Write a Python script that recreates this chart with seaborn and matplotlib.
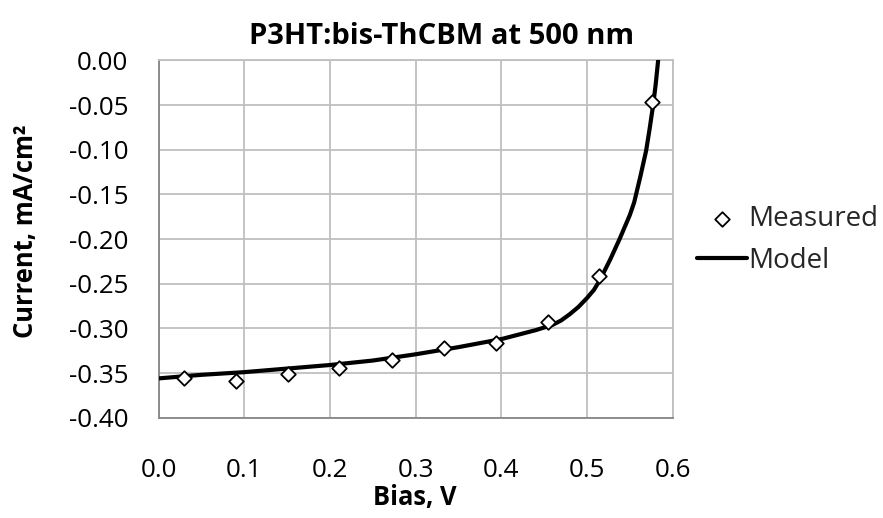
import matplotlib
matplotlib.use('Agg')
import matplotlib.pyplot as plt
import seaborn as sns

# ---- data ----
bias_measured = [0.030, 0.090, 0.151, 0.211, 0.272, 0.333, 0.394, 0.454, 0.514, 0.576]
current_measured = [-0.356, -0.359, -0.351, -0.344, -0.335, -0.322, -0.316, -0.293, -0.241, -0.047]

bias_model = [0.0, 0.05, 0.10, 0.15, 0.20, 0.25, 0.30, 0.35, 0.40, 0.44, 0.46, 0.47, 0.48,
              0.49, 0.50, 0.508, 0.515, 0.527, 0.538, 0.550, 0.555, 0.562, 0.569, 0.573,
              0.577, 0.580, 0.583]
current_model = [-0.356, -0.352, -0.349, -0.345, -0.341, -0.336, -0.329, -0.321, -0.312,
                 -0.302, -0.296, -0.291, -0.284, -0.276, -0.266, -0.257, -0.246, -0.223,
                 -0.200, -0.173, -0.159, -0.131, -0.101, -0.077, -0.051, -0.028, 0.000]

x_ticks = [0.0, 0.1, 0.2, 0.3, 0.4, 0.5, 0.6]
x_tick_labels = ["0.0", "0.1", "0.2", "0.3", "0.4", "0.5", "0.6"]
y_ticks = [0.00, -0.05, -0.10, -0.15, -0.20, -0.25, -0.30, -0.35, -0.40]
y_tick_labels = ["0.00", "-0.05", "-0.10", "-0.15", "-0.20", "-0.25", "-0.30", "-0.35", "-0.40"]

title = "P3HT:bis-ThCBM at 500 nm"
x_label = "Bias, V"
y_label = "Current, mA/cm\u00b2"
series_names = ["Measured", "Model"]

# ---- style ----
sns.set_theme(style="white")
plt.rcParams['font.family'] = ['Open Sans', 'DejaVu Sans']
plt.rcParams['axes.unicode_minus'] = False

W, H = 883, 518
fig = plt.figure(figsize=(W / 100, H / 100), dpi=100)
left, right, top, bottom = 158.5, 672.7, 60.5, 417.7
ax = fig.add_axes([left / W, 1 - bottom / H, (right - left) / W, (bottom - top) / H])

sns.lineplot(x=bias_model, y=current_model, ax=ax, color='black', linewidth=3.0,
             sort=False, estimator=None, label=series_names[1], zorder=3)
sns.scatterplot(x=bias_measured, y=current_measured, ax=ax, marker='D', s=55,
                facecolor='white', edgecolor='black', linewidth=1.3,
                label=series_names[0], zorder=4)

ax.set_xlim(0.0, 0.6)
ax.set_ylim(-0.40, 0.0)
ax.set_xticks(x_ticks)
ax.set_xticklabels(x_tick_labels)
ax.set_yticks(y_ticks)
ax.set_yticklabels(y_tick_labels)

grid_c = '#bfbfbf'
axis_c = '#868686'
ax.grid(True, color=grid_c, linewidth=1.3, zorder=0)
ax.set_axisbelow(True)
for s in ['top', 'right']:
    ax.spines[s].set_color(grid_c)
    ax.spines[s].set_linewidth(1.3)
for s in ['left', 'bottom']:
    ax.spines[s].set_color(axis_c)
    ax.spines[s].set_linewidth(1.3)

ax.tick_params(axis='both', direction='out', length=7.2, width=1.3, color=axis_c,
               labelsize=18.7, labelcolor='black')
ax.tick_params(axis='x', pad=22)
ax.tick_params(axis='y', pad=14.4)
ax.set_xlabel('')
ax.set_ylabel('')

fig.text(0.5, 1 - 44 / H, title, ha='center', va='baseline', fontsize=21,
         fontweight='bold', color='black')
fig.text(415 / W, 1 - 505 / H, x_label, ha='center', va='baseline', fontsize=18.4,
         fontweight='bold', color='black')
fig.text(33 / W, 1 - 231 / H, y_label, rotation=90, rotation_mode='anchor',
         ha='center', va='baseline', fontsize=18.4, fontweight='bold', color='black')

handles, labels = ax.get_legend_handles_labels()
order = [labels.index(n) for n in series_names]
if ax.get_legend():
    ax.get_legend().remove()
fig.legend([handles[i] for i in order], [labels[i] for i in order],
           loc='upper left', bbox_to_anchor=(697 / W, 1 - 205 / H), frameon=False,
           fontsize=20, handlelength=1.8, handletextpad=0.05, labelspacing=0.5,
           borderpad=0, borderaxespad=0)

fig.savefig('out.png', dpi=100)
